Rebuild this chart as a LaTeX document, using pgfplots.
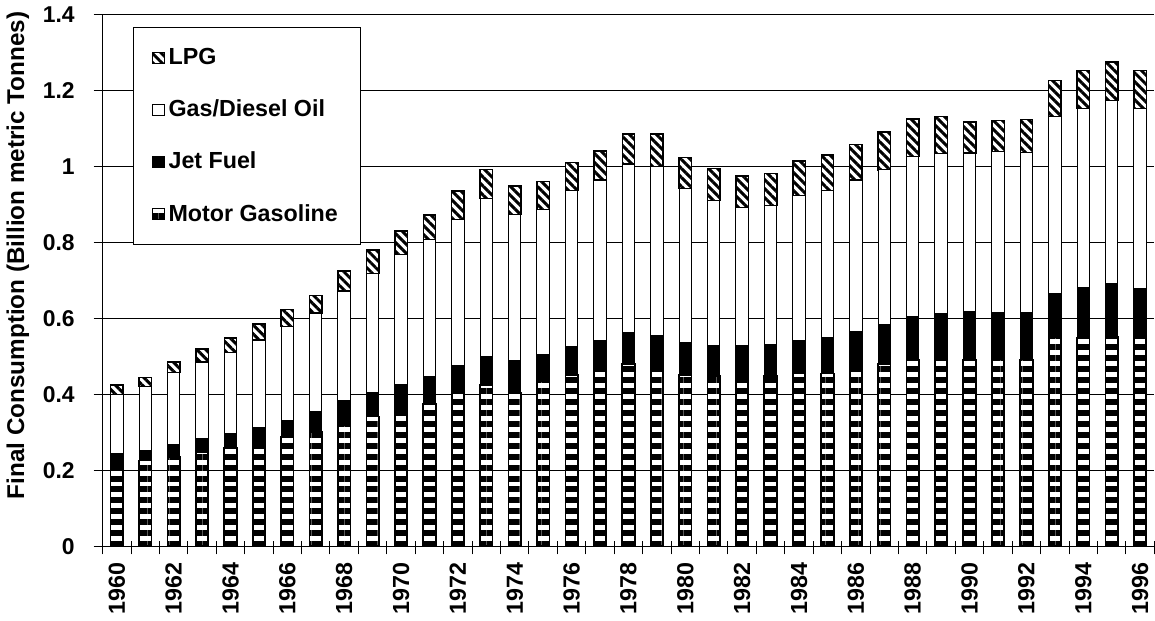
\documentclass[border=0pt]{standalone}
\usepackage{fontspec}
\setmainfont{Liberation Sans}
\usepackage{pgfplots}
\pgfplotsset{compat=1.18}
\usepackage{pgfplotstable}
\usetikzlibrary{patterns.meta}

\pgfplotstableread{
year gas jet gd lpg
1960 0.217 0.027 0.156 0.025
1961 0.226 0.027 0.167 0.025
1962 0.235 0.034 0.189 0.027
1963 0.248 0.035 0.202 0.035
1964 0.260 0.037 0.213 0.038
1965 0.270 0.042 0.231 0.042
1966 0.289 0.043 0.246 0.045
1967 0.300 0.054 0.260 0.046
1968 0.320 0.063 0.289 0.053
1969 0.342 0.063 0.313 0.062
1970 0.350 0.075 0.343 0.062
1971 0.376 0.070 0.361 0.065
1972 0.403 0.072 0.385 0.075
1973 0.425 0.074 0.416 0.077
1974 0.403 0.086 0.384 0.076
1975 0.434 0.071 0.382 0.074
1976 0.452 0.074 0.410 0.074
1977 0.462 0.079 0.423 0.077
1978 0.480 0.083 0.443 0.079
1979 0.462 0.093 0.444 0.086
1980 0.452 0.084 0.406 0.082
1981 0.449 0.081 0.380 0.085
1982 0.447 0.081 0.363 0.084
1983 0.449 0.083 0.366 0.084
1984 0.455 0.088 0.381 0.090
1985 0.455 0.094 0.387 0.094
1986 0.462 0.104 0.398 0.093
1987 0.481 0.103 0.407 0.100
1988 0.492 0.113 0.421 0.099
1989 0.492 0.122 0.419 0.099
1990 0.492 0.126 0.417 0.082
1991 0.492 0.123 0.425 0.081
1992 0.492 0.124 0.421 0.086
1993 0.550 0.115 0.466 0.095
1994 0.550 0.131 0.471 0.100
1995 0.552 0.140 0.481 0.102
1996 0.550 0.129 0.473 0.100
}\data

\begin{document}
\begin{tikzpicture}
\begin{axis}[
  scale only axis, width=529pt, height=267.5pt,
  ybar stacked, bar width=6.25pt,
  xmin=1959.5, xmax=1996.5, ymin=0, ymax=1.4,
  ytick={0,0.2,0.4,0.6,0.8,1,1.2,1.4},
  yticklabels={0,0.2,0.4,0.6,0.8,1,1.2,1.4},
  xtick={1960,1962,...,1996},
  minor xtick={1959.5,1960.5,...,1996.5},
  axis x line*=bottom, axis y line*=left,
  axis line style={-, black, line width=0.6pt},
  ymajorgrids, grid style={black, line width=0.5pt},
  tick align=outside, major tick length=4.5pt, minor tick length=6.5pt,
  every major x tick/.style={draw=none},
  every minor x tick/.style={black, line width=0.5pt, yshift=2.5pt},
  every major y tick/.style={black, line width=0.5pt},
  /pgf/number format/assume math mode=true,
  x tick label style={/pgf/number format/1000 sep={}, rotate=90, anchor=east, font=\bfseries\fontsize{11.7}{13}\selectfont},
  y tick label style={font=\bfseries\fontsize{11.5}{13}\selectfont, xshift=-6pt},
  ylabel={Final Consumption (Billion metric Tonnes)},
  ylabel style={font=\bfseries\fontsize{12.2}{14}\selectfont, at={(ticklabel cs:0.547)}},
  legend cell align=left,
  reverse legend,
  legend image code/.code={\draw[#1, line width=0.5pt] (0pt,-2.8pt) rectangle (5.6pt,2.8pt);},
  legend style={at={(axis description cs:0.029,0.977)}, anchor=north west,
    draw=black, line width=0.5pt, font=\bfseries\fontsize{11.7}{13}\selectfont,
    row sep=12.3pt, inner xsep=9.5pt, inner ysep=8.5pt},
]
\addplot[draw=black, line width=0.9pt, fill=white, postaction={pattern={Lines[angle=0,distance=5.5pt,line width=3pt]}}] table[x=year,y=gas] {\data};
\addlegendentry{Motor Gasoline}
\addplot[draw=black, line width=0.5pt, fill=black] table[x=year,y=jet] {\data};
\addlegendentry{Jet Fuel}
\addplot[draw=black, line width=0.5pt, fill=white] table[x=year,y=gd] {\data};
\addlegendentry{Gas/Diesel Oil}
\addplot[draw=black, line width=0.7pt, fill=white, postaction={pattern={Lines[angle=-45,distance=3.2pt,line width=1.5pt]}}] table[x=year,y=lpg] {\data};
\addlegendentry{LPG}
\end{axis}
\end{tikzpicture}
\end{document}
